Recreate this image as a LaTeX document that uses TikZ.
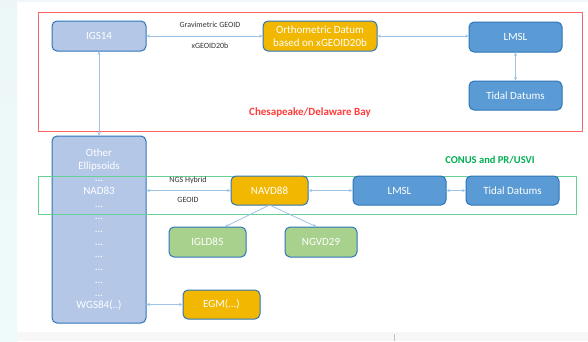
\documentclass[tikz,border=0pt]{standalone}
\usepackage{fontspec}
\setmainfont{Carlito}
\usetikzlibrary{arrows.meta}
\definecolor{pale}{HTML}{B4C7E7}
\definecolor{gold}{HTML}{F2B700}
\definecolor{sea}{HTML}{5B9BD5}
\definecolor{leaf}{HTML}{A9D18E}
\definecolor{rim}{HTML}{2E75B6}
\definecolor{link}{HTML}{9DC3E6}
\definecolor{bayred}{HTML}{FF3B3B}
\definecolor{conus}{HTML}{00B050}
\begin{document}
\begin{tikzpicture}[x=1pt,y=-1pt,
    box/.style={draw=rim,line width=1pt,rounded corners=5pt,text=white,
      inner sep=0pt,outer sep=0pt,align=center,
      font=\fontsize{11}{12.7}\selectfont},
    lbl/.style={font=\fontsize{8}{9}\selectfont,text=black!80},
    arr/.style={draw=link,line width=0.8pt,
      {Stealth[length=4pt,width=3pt]}-{Stealth[length=4pt,width=3pt]}}]
  \useasboundingbox (0,0) rectangle (588,341);
  % slide background
  \shade[top color=black!45!cyan!10!white!75,bottom color=black!30!cyan!8!white!80]
    (0,0) rectangle (17,341);
  \fill[black!40!cyan!8!white!80] (17,0) rectangle (588,2);
  \fill[black!3] (17,332) rectangle (588,341);
  \draw[black!25] (394,334) -- (394,341);
  % regions
  \draw[bayred!80,line width=1pt] (38,12.5) rectangle (582,131);
  \node[font=\fontsize{11}{13}\selectfont\bfseries,text=bayred] (bay) at (310,112) {Chesapeake/Delaware Bay};
  \node[font=\fontsize{10.5}{12}\selectfont\bfseries,text=conus] (conuslbl) at (490,160) {CONUS and PR/USVI};
  % nodes
  \node[box,fill=pale,minimum width=94pt,minimum height=30pt] (igs) at (99,36) {IGS14};
  \node[box,fill=gold,minimum width=114pt,minimum height=30pt] (ortho) at (320,36) {Orthometric Datum\\based on xGEOID20b};
  \node[box,fill=sea,minimum width=93pt,minimum height=30pt] (lmslA) at (515.5,37) {LMSL};
  \node[box,fill=sea,minimum width=93pt,minimum height=29pt] (tidalA) at (515.5,95.5) {Tidal Datums};
  \node[box,fill=pale,minimum width=94pt,minimum height=187pt] (other) at (99,229.5)
    {Other\\Ellipsoids\\...\\NAD83\\...\\...\\...\\...\\...\\...\\...\\...\\WGS84(..)};
  \draw[conus!60!white,line width=1pt] (38,176) rectangle (576,214);
  \node[box,fill=gold,minimum width=77pt,minimum height=29pt] (navd) at (269.5,190.5) {NAVD88};
  \node[box,fill=sea,minimum width=93pt,minimum height=29pt] (lmslB) at (399.5,190.5) {LMSL};
  \node[box,fill=sea,minimum width=93pt,minimum height=29pt] (tidalB) at (512.5,190.5) {Tidal Datums};
  \node[box,fill=leaf,minimum width=77pt,minimum height=30pt] (igld) at (207.5,242) {IGLD85};
  \node[box,fill=leaf,minimum width=72pt,minimum height=30pt] (ngvd) at (321,242) {NGVD29};
  \node[box,fill=gold,minimum width=77pt,minimum height=29pt] (egm) at (221.5,304.5) {EGM(...)};
  % connector labels
  \node[lbl] (grav) at (210,25) {Gravimetric GEOID};
  \node[lbl] (xgeoid) at (210,46) {xGEOID20b};
  \node[lbl] (hybrid) at (188,180) {NGS Hybrid};
  \node[lbl] (geoid) at (188,200) {GEOID};
  \begin{scope}[arr]
    \draw (igs) to (ortho);
    \draw (ortho.east) to (ortho.east -| lmslA.west);
    \draw (lmslA) to (tidalA);
    \draw (igs) to (other);
    \draw (navd.west -| other.east) to (navd.west);
    \draw (navd) to (lmslB);
    \draw (lmslB) to (tidalB);
    \draw (egm.west -| other.east) to (egm.west);
  \end{scope}
  \begin{scope}[draw=link,line width=0.8pt,-{Stealth[length=4pt,width=3pt]}]
    \draw (navd.south) to ([xshift=17pt]igld.north);
    \draw (navd.south) to ([xshift=-4pt]ngvd.north);
  \end{scope}
\end{tikzpicture}
\end{document}
